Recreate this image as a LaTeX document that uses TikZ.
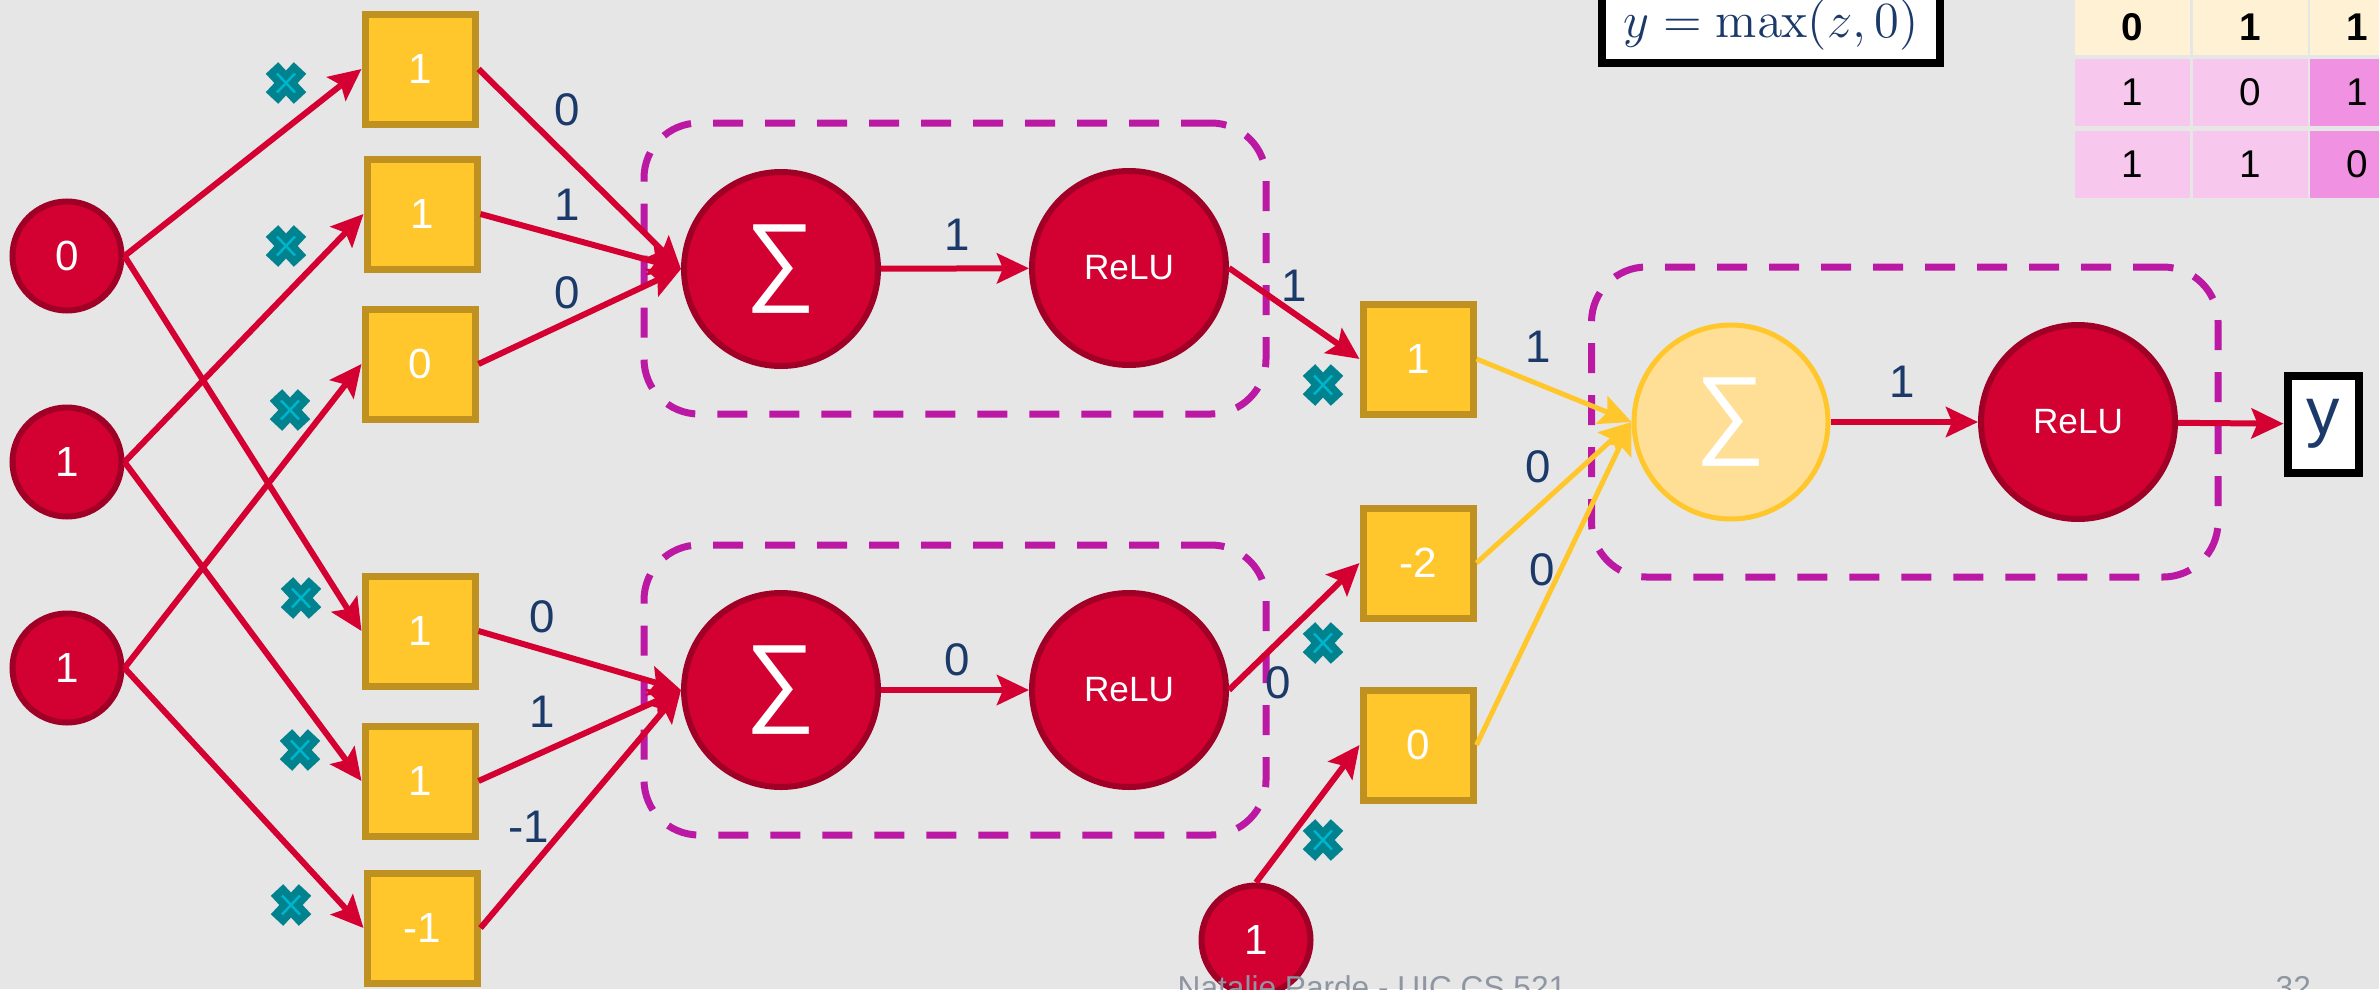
\documentclass[tikz,border=0pt]{standalone}
\usepackage[no-math]{fontspec}
\setmainfont{Liberation Sans}
\usetikzlibrary{arrows.meta,fit}

\definecolor{slide}{HTML}{E6E6E6}
\definecolor{neuronred}{HTML}{D30032}
\definecolor{neurondark}{HTML}{A00026}
\definecolor{linered}{HTML}{D50032}
\definecolor{boxgold}{HTML}{FFC72C}
\definecolor{goldedge}{HTML}{BF9120}
\definecolor{paleyellow}{HTML}{FFDE96}
\definecolor{grpmagenta}{HTML}{BB18A3}
\definecolor{navy}{HTML}{1B3969}
\definecolor{crossteal}{HTML}{00828F}
\definecolor{crosscyan}{HTML}{00B4CC}
\definecolor{cream}{HTML}{FFF2D4}
\definecolor{pinklight}{HTML}{F7C7EE}
\definecolor{pinkdark}{HTML}{F091E1}
\definecolor{footgray}{HTML}{8E96A2}

\newcommand{\sumsign}{{\fontsize{28}{30}\selectfont ∑}}

\begin{document}
\begin{tikzpicture}[
  inp/.style={circle,draw=neurondark,fill=neuronred,line width=0.06cm,minimum size=1.09cm,inner sep=0pt,text=white,font=\fontsize{12}{14}\selectfont},
  unit/.style={inp,minimum size=1.94cm},
  prod/.style={draw=goldedge,fill=boxgold,line width=0.07cm,minimum size=1.1cm,inner sep=0pt,text=white,font=\fontsize{12}{14}\selectfont},
  wt/.style={text=navy,font=\fontsize{13}{15}\selectfont,inner sep=0pt},
  arr/.style={draw=linered,line width=0.06cm,-{Stealth[length=0.32cm,width=0.3cm,inset=0.06cm]}},
  yarr/.style={arr,draw=boxgold,line width=0.05cm},
  grp/.style={draw=grpmagenta,line width=0.07cm,dash pattern=on 0.3cm off 0.22cm,rounded corners=0.55cm,inner xsep=0.37cm,inner ysep=0.45cm},
  cell/.style={minimum width=1.15cm,minimum height=0.67cm,inner sep=0pt,font=\fontsize{11}{13}\selectfont},
  pics/cross/.style={code={
    \draw[crossteal,line width=0.17cm] (-0.14,-0.15) -- (0.14,0.15) (-0.14,0.15) -- (0.14,-0.15);
    \draw[crosscyan,line width=0.025cm] (-0.09,-0.095) -- (0.09,0.095) (-0.09,0.095) -- (0.09,-0.095);
  }}
]
\useasboundingbox (0,0) rectangle (23.79,9.89);
\clip (0,0) rectangle (23.79,9.89);
\fill[slide] (0,0) rectangle (23.79,9.89);

\node[inp] (in0) at (0.67,7.33) {0};
\node[inp] (in1) at (0.67,5.27) {1};
\node[inp] (in2) at (0.67,3.21) {1};

\node[prod] (p1) at (4.20,9.20) {1};
\node[prod] (p2) at (4.22,7.75) {1};
\node[prod] (p3) at (4.20,6.25) {0};
\node[prod] (p4) at (4.20,3.58) {1};
\node[prod] (p5) at (4.20,2.08) {1};
\node[prod] (p6) at (4.22,0.61) {-1};

\node[unit] (s1) at (7.81,7.20) {\sumsign};
\node[unit,font=\fontsize{10}{12}\selectfont] (r1) at (11.29,7.21) {ReLU};
\node[unit] (s2) at (7.81,2.99) {\sumsign};
\node[unit,font=\fontsize{10}{12}\selectfont] (r2) at (11.29,2.99) {ReLU};

\node[prod] (q1) at (14.18,6.30) {1};
\node[prod] (q2) at (14.18,4.26) {-2};
\node[prod] (q3) at (14.18,2.44) {0};
\node[inp] (b) at (12.56,0.49) {1};

\node[unit,draw=boxgold,fill=paleyellow,line width=0.05cm] (os) at (17.31,5.67) {\sumsign};
\node[unit,font=\fontsize{10}{12}\selectfont] (or) at (20.78,5.67) {ReLU};
\node[draw=black,fill=white,line width=0.08cm,minimum width=0.71cm,minimum height=0.97cm,inner sep=0pt,text=navy,font=\fontsize{19}{21}\selectfont] (y) at (23.23,5.65) {y};

\node[grp,fit=(s1)(r1)] (g1) {};
\node[grp,fit=(s2)(r2)] (g2) {};
\node[grp,fit=(os)(or),inner xsep=0.4cm,inner ysep=0.55cm] (g3) {};

\draw[arr] (in0.east) -- (p1.west);
\draw[arr] (in0.east) -- (p4.west);
\draw[arr] (in1.east) -- (p2.west);
\draw[arr] (in1.east) -- (p5.west);
\draw[arr] (in2.east) -- (p3.west);
\draw[arr] (in2.east) -- (p6.west);

\draw[arr] (p1.east) -- (s1.west);
\draw[arr] (p2.east) -- (s1.west);
\draw[arr] (p3.east) -- (s1.west);
\draw[arr] (p4.east) -- (s2.west);
\draw[arr] (p5.east) -- (s2.west);
\draw[arr] (p6.east) -- (s2.west);

\draw[arr] (s1) -- (r1);
\draw[arr] (s2) -- (r2);
\draw[arr] (r1.east) -- (q1.west);
\draw[arr] (r2.east) -- (q2.west);
\draw[arr] (b.north) -- (q3.west);

\draw[yarr] (q1.east) -- (os.west);
\draw[yarr] (q2.east) -- (os.west);
\draw[yarr] (q3.east) -- (os.west);
\draw[arr] (os) -- (or);
\draw[arr] (or) -- (y);

\node[wt] (w1) at (5.67,8.79) {0};
\node[wt] (w2) at (5.67,7.84) {1};
\node[wt] (w3) at (5.67,6.96) {0};
\node[wt] (w4) at (5.42,3.72) {0};
\node[wt] (w5) at (5.42,2.77) {1};
\node[wt] (w6) at (5.29,1.62) {-1};
\node[wt] (h1) at (9.57,7.54) {1};
\node[wt] (h2) at (9.57,3.29) {0};
\node[wt] (a1) at (12.94,7.03) {1};
\node[wt] (a2) at (12.78,3.06) {0};
\node[wt] (v1) at (15.38,6.42) {1};
\node[wt] (v2) at (15.38,5.22) {0};
\node[wt] (v3) at (15.42,4.19) {0};
\node[wt] (o1) at (19.02,6.07) {1};

\pic (x1) at (2.86,9.06) {cross};
\pic (x2) at (2.86,7.43) {cross};
\pic (x3) at (2.90,5.79) {cross};
\pic (x4) at (3.01,3.91) {cross};
\pic (x5) at (3.00,2.39) {cross};
\pic (x6) at (2.91,0.84) {cross};
\pic (x7) at (13.23,6.04) {cross};
\pic (x8) at (13.23,3.46) {cross};
\pic (x9) at (13.23,1.49) {cross};

\node[draw=black,fill=white,line width=0.08cm,minimum width=3.38cm,anchor=south,text height=0.75cm,text depth=0.14cm,inner ysep=0.12cm,text=navy,font=\fontsize{14}{16}\selectfont] (act) at (17.71,9.22) {$y=\max(z,0)$};

\node[cell,fill=cream,minimum height=0.55cm,font=\fontsize{11}{13}\selectfont\bfseries] (t11) at (21.325,9.62) {0};
\node[cell,fill=cream,minimum height=0.55cm,font=\fontsize{11}{13}\selectfont\bfseries] (t12) at (22.505,9.62) {1};
\node[cell,fill=cream,minimum height=0.55cm,minimum width=0.94cm,font=\fontsize{11}{13}\selectfont\bfseries] (t13) at (23.57,9.62) {1};
\node[cell,fill=pinklight] (t21) at (21.325,8.97) {1};
\node[cell,fill=pinklight] (t22) at (22.505,8.97) {0};
\node[cell,fill=pinkdark,minimum width=0.94cm] (t23) at (23.57,8.97) {1};
\node[cell,fill=pinklight] (t31) at (21.325,8.25) {1};
\node[cell,fill=pinklight] (t32) at (22.505,8.25) {1};
\node[cell,fill=pinkdark,minimum width=0.94cm] (t33) at (23.57,8.25) {0};

\node[anchor=base west,inner sep=0pt,text=footgray,font=\fontsize{9}{11}\selectfont] (foot) at (11.77,-0.09) {Natalie Parde - UIC CS 521};
\node[anchor=base west,inner sep=0pt,text=footgray,font=\fontsize{9}{11}\selectfont] (page) at (22.75,-0.09) {32};
\end{tikzpicture}
\end{document}
